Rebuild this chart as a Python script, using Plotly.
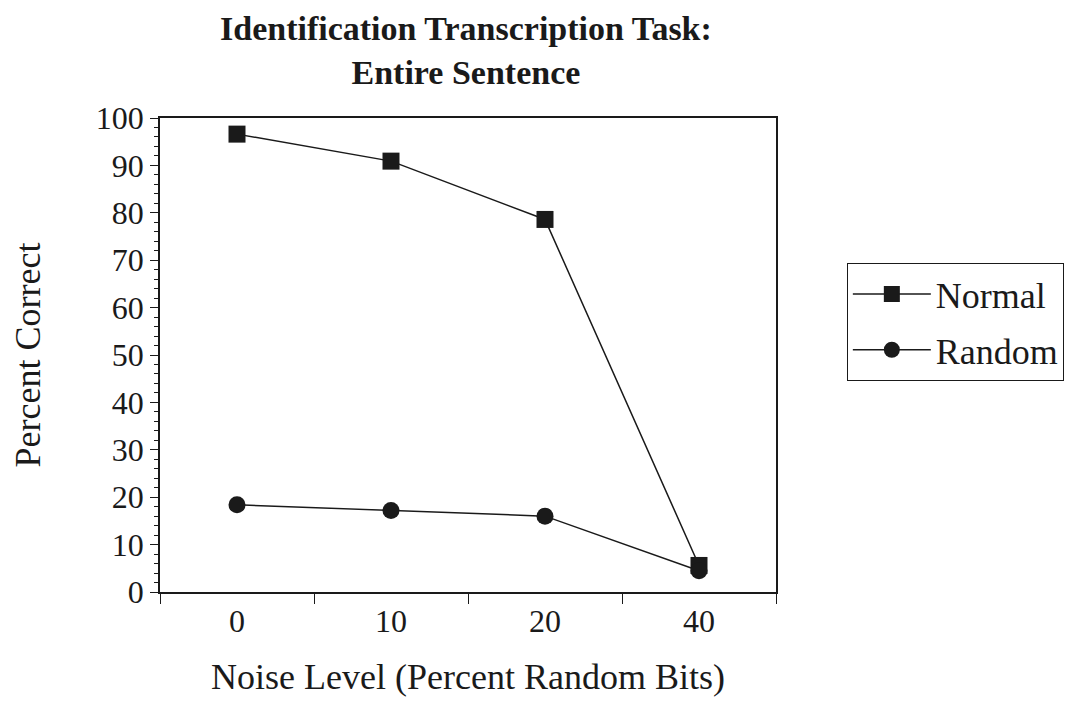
import plotly.graph_objects as go

noise_levels = ["0", "10", "20", "40"]
normal = [96.6, 90.9, 78.6, 5.6]
random_ = [18.4, 17.2, 16.0, 4.5]
y_ticks = [0, 10, 20, 30, 40, 50, 60, 70, 80, 90, 100]

SERIF = "Liberation Serif, Times New Roman, serif"
INK = "#1a1a1a"

fig = go.Figure()
fig.add_trace(go.Scatter(
    x=noise_levels, y=normal, name="Normal", mode="lines+markers",
    legendgroup="a",
    line=dict(color=INK, width=1.5),
    marker=dict(symbol="square", size=17, color=INK),
))
fig.add_trace(go.Scatter(
    x=noise_levels, y=random_, name="Random", mode="lines+markers",
    legendgroup="b",
    line=dict(color=INK, width=1.5),
    marker=dict(symbol="circle", size=17, color=INK),
))

fig.update_layout(
    width=1074, height=693,
    paper_bgcolor="white", plot_bgcolor="white",
    margin=dict(l=152, r=306, t=110, b=109),
    font=dict(family=SERIF, color=INK, size=36),
    legend=dict(
        x=1.115, y=0.694, xanchor="left", yanchor="top",
        bordercolor=INK, borderwidth=1,
        font=dict(family=SERIF, size=36),
        traceorder="grouped", tracegroupgap=6,
        itemwidth=78,
    ),
    showlegend=True,
    annotations=[dict(
        text="<b>Identification Transcription Task:<br>Entire Sentence</b>",
        xref="paper", yref="paper", x=0.497, y=1.232,
        xanchor="center", yanchor="top", showarrow=False,
        font=dict(family=SERIF, size=34, color=INK),
    )],
)

fig.update_xaxes(
    type="category", range=[-0.5, 3.5], automargin=False,
    tickson="boundaries", ticks="outside", ticklen=10, tickcolor=INK,
    showline=True, linecolor=INK, linewidth=1.5, mirror=True,
    showgrid=False, zeroline=False,
    tickfont=dict(family=SERIF, size=32),
    title=dict(text="Noise Level (Percent Random Bits)", font=dict(family=SERIF, size=36), standoff=26),
)
fig.update_yaxes(
    range=[0, 100], tickvals=y_ticks, ticks="outside", ticklen=8, tickcolor=INK,
    minor=dict(dtick=2, ticks="outside", ticklen=4, tickcolor=INK),
    showline=True, linecolor=INK, linewidth=1.5, mirror=True,
    showgrid=False, zeroline=False,
    tickfont=dict(family=SERIF, size=32),
    title=dict(text="Percent Correct", font=dict(family=SERIF, size=36), standoff=44),
)

fig.write_html("out.html")
